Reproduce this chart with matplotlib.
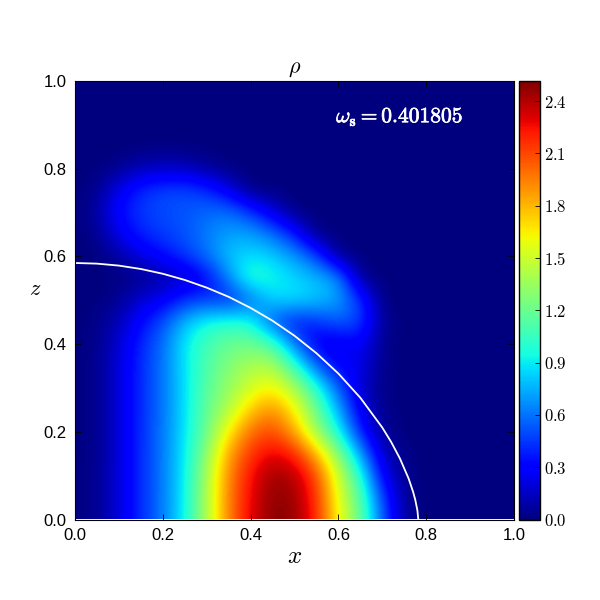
import matplotlib
matplotlib.use("Agg")
import matplotlib.pyplot as plt
import matplotlib.patheffects as pe

plt.rcParams['font.family'] = ['Liberation Sans', 'DejaVu Sans']
plt.rcParams['mathtext.fontset'] = 'cm'

# rho on a grid: x = 0, 0.05, ... 1.0 (columns); z = 0, 0.05, ... 1.0 (rows)
grid_step = 0.05
rho_z00 = [0,.04,.2,.42,.62,.92,1.4,1.95,2.3,2.5,2.47,2.2,1.62,1.2,.55,.06,0,0,0,0,0]
rho_z05 = [0,.04,.2,.42,.62,.91,1.4,1.95,2.28,2.48,2.45,2.17,1.57,1.15,.48,.05,0,0,0,0,0]
rho_z10 = [0,.04,.2,.42,.62,.9,1.38,1.93,2.25,2.45,2.4,2.1,1.5,1.0,.28,.03,0,0,0,0,0]
rho_z15 = [0,.03,.2,.42,.62,.89,1.3,1.85,2.15,2.3,2.2,1.8,1.28,.72,.15,.02,0,0,0,0,0]
rho_z20 = [0,.03,.2,.42,.61,.88,1.2,1.65,2.0,2.1,1.85,1.35,.95,.38,.05,0,0,0,0,0,0]
rho_z25 = [0,.03,.2,.42,.6,.87,1.18,1.42,1.75,1.92,1.65,1.2,.75,.25,.03,0,0,0,0,0,0]
rho_z30 = [0,.03,.2,.42,.6,.87,1.15,1.33,1.52,1.64,1.4,1.0,.55,.17,.02,0,0,0,0,0,0]
rho_z35 = [0,.03,.2,.42,.6,.88,1.12,1.27,1.4,1.42,1.05,.55,.28,.25,.03,0,0,0,0,0,0]
rho_z40 = [0,.03,.18,.4,.58,.9,1.08,1.2,1.22,1.1,.6,.25,.22,.3,.03,0,0,0,0,0,0]
rho_z45 = [0,.02,.12,.33,.5,.78,.95,1.0,.95,.5,.35,.42,.55,.5,.05,0,0,0,0,0,0]
rho_z50 = [0,0,.05,.18,.27,.42,.45,.38,.55,.85,.88,.82,.72,.45,0,0,0,0,0,0,0]
rho_z55 = [0,0,0,.03,.08,.15,.3,.65,1.05,.95,.85,.78,.7,.03,0,0,0,0,0,0,0]
rho_z60 = [0,0,.08,.22,.33,.45,.6,.8,.87,.82,.7,.5,.02,0,0,0,0,0,0,0,0]
rho_z65 = [0,.03,.25,.4,.46,.52,.62,.72,.72,.6,.38,0,0,0,0,0,0,0,0,0,0]
rho_z70 = [0,.08,.33,.45,.5,.52,.58,.6,.45,.22,0,0,0,0,0,0,0,0,0,0,0]
rho_z75 = [0,.03,.25,.42,.48,.5,.42,.25,0,0,0,0,0,0,0,0,0,0,0,0,0]
rho_z80 = [0,0,.03,.12,.15,.13,.06,0,0,0,0,0,0,0,0,0,0,0,0,0,0]
rho_z85 = [0]*21
rho_z90 = [0]*21
rho_z95 = [0]*21
rho_z100 = [0]*21

rho_grid = [rho_z00, rho_z05, rho_z10, rho_z15, rho_z20, rho_z25, rho_z30,
            rho_z35, rho_z40, rho_z45, rho_z50, rho_z55, rho_z60, rho_z65,
            rho_z70, rho_z75, rho_z80, rho_z85, rho_z90, rho_z95, rho_z100]
rho_max = 2.515

surface_x = [0,.05,.1,.15,.2,.25,.3,.35,.4,.45,.5,.55,.6,.65,.7,.72,.74,.76,.77,.775,.78,.782]
surface_z = [.585,.5835,.579,.5713,.5604,.5463,.5287,.5078,.4825,.4532,.419,.3792,.3328,.2776,.2096,.1771,.1394,.0932,.0636,.0453,.0205,0]

axis_ticks = [0.0, 0.2, 0.4, 0.6, 0.8, 1.0]
axis_tick_labels = ['0.0', '0.2', '0.4', '0.6', '0.8', '1.0']
cbar_ticks = [0.0, 0.3, 0.6, 0.9, 1.2, 1.5, 1.8, 2.1, 2.4]
cbar_tick_labels = ['$0.0$', '$0.3$', '$0.6$', '$0.9$', '$1.2$', '$1.5$', '$1.8$', '$2.1$', '$2.4$']

fig = plt.figure(figsize=(6, 6), dpi=100)
ax = fig.add_axes([75/600, 80.5/600, 439/600, 438.5/600])
half = grid_step / 2
im = ax.imshow(rho_grid, origin='lower', extent=(-half, 1+half, -half, 1+half),
               cmap='jet', vmin=0, vmax=rho_max, interpolation='bicubic', aspect='auto')
ax.plot(surface_x, surface_z, color='white', lw=1.3, solid_joinstyle='round')
ax.set_xlim(0, 1)
ax.set_ylim(0, 1)
ax.set_xticks(axis_ticks)
ax.set_xticklabels(axis_tick_labels)
ax.set_yticks(axis_ticks)
ax.set_yticklabels(axis_tick_labels)
ax.tick_params(direction='in', top=True, right=True, length=4.5, width=0.6, labelsize=12, pad=6)
ax.set_xlabel('$x$', fontsize=18, labelpad=1)
ax.set_ylabel('$z$', fontsize=16, rotation=0, labelpad=6)
ax.set_title(r'$\rho$', fontsize=16, pad=6)
t = ax.text(0.74, 0.92, r'$\omega_{\mathbf{s}} = \mathbf{0.401805}$', color='white', fontsize=15.5,
            ha='center', va='center')
t.set_path_effects([pe.withStroke(linewidth=0.5, foreground='white')])

cax = fig.add_axes([518.5/600, 80.5/600, 21.5/600, 438.5/600])
cb = fig.colorbar(im, cax=cax, ticks=cbar_ticks)
cb.ax.set_yticklabels(cbar_tick_labels)
cb.ax.tick_params(direction='in', length=3.5, width=0.6, labelsize=12, pad=3)
cb.outline.set_linewidth(1.0)

fig.savefig('out.png', dpi=100)
